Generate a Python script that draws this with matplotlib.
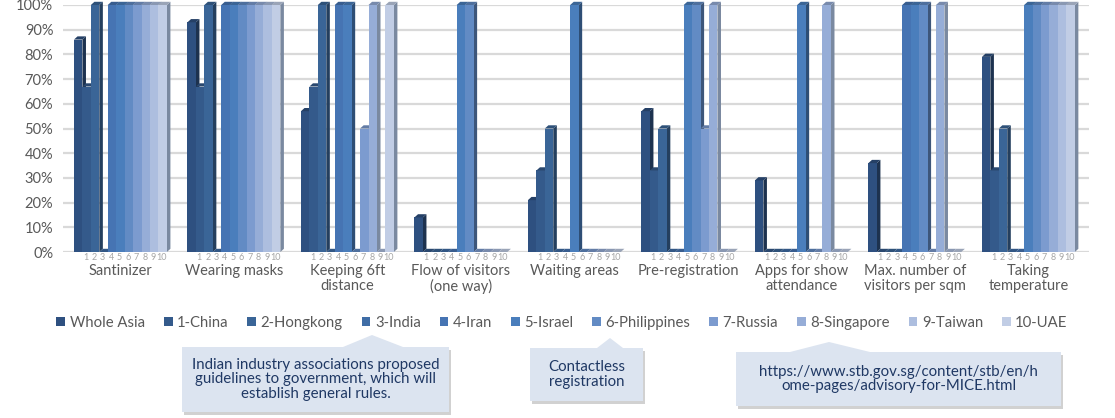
import numpy as np
import matplotlib.pyplot as plt
from matplotlib.patches import Polygon, Rectangle
from matplotlib.colors import to_rgb
import matplotlib.transforms as mtransforms

plt.rcParams['font.family'] = ['Lato', 'DejaVu Sans']

categories = ['Santinizer', 'Wearing masks', 'Keeping 6ft\ndistance',
              'Flow of visitors\n(one way)', 'Waiting areas', 'Pre-registration',
              'Apps for show\nattendance', 'Max. number of\nvisitors per sqm',
              'Taking\ntemperature']
series = ['Whole Asia', '1-China', '2-Hongkong', '3-India', '4-Iran', '5-Israel',
          '6-Philippines', '7-Russia', '8-Singapore', '9-Taiwan', '10-UAE']

whole_asia  = [86, 93, 57, 14, 21, 57, 29, 36, 79]
china       = [67, 67, 67, 0, 33, 33, 0, 0, 33]
hongkong    = [100, 100, 100, 0, 50, 50, 0, 0, 50]
india       = [0, 0, 0, 0, 0, 0, 0, 0, 0]
iran        = [100, 100, 100, 0, 0, 0, 0, 100, 0]
israel      = [100, 100, 100, 100, 100, 100, 100, 100, 100]
philippines = [100, 100, 0, 100, 0, 100, 0, 100, 100]
russia      = [100, 100, 50, 0, 0, 50, 0, 0, 100]
singapore   = [100, 100, 100, 0, 0, 100, 100, 100, 100]
taiwan      = [100, 100, 0, 0, 0, 0, 0, 0, 100]
uae         = [100, 100, 100, 0, 0, 0, 0, 0, 100]
values = [whole_asia, china, hongkong, india, iran, israel,
          philippines, russia, singapore, taiwan, uae]

colors = ['#2E5080', '#345A8B', '#3A6597', '#3F6DA6', '#4674B3', '#4A7EBC',
          '#628BC4', '#7C9BCF', '#96ADD7', '#ADBEDF', '#C1CDE5']

notes = ['Indian industry associations proposed\nguidelines to government, which will\nestablish general rules.',
         'Contactless\nregistration',
         'https://www.stb.gov.sg/content/stb/en/h\nome-pages/advisory-for-MICE.html']

W, H = 1115, 418
fig = plt.figure(figsize=(W / 100, H / 100), dpi=100)
ax = fig.add_axes([63 / W, 1 - 252 / H, (1089 - 63) / W, (252 - 5) / H])

pitch = 13.44
dx, dy = 0.42, 1.3
grey = '#595959'


def shade(c, f):
    r, g, b = to_rgb(c)
    return (r * f, g * f, b * f)


x0 = np.arange(len(categories)) * pitch
for j, (vals, col) in enumerate(zip(values, colors)):
    xs = x0 + j
    ax.bar(xs, vals, width=1.0, color=col, zorder=3 + 2 * j, linewidth=0)
    side = shade(col, 0.62) if j < 7 else shade('#8090A8', 0.95)
    for x, h in zip(xs, vals):
        r = x + 0.5
        l = x - 0.5
        ax.add_patch(Polygon([(r, 0), (r + dx, dy), (r + dx, h + dy), (r, h)],
                             closed=True, fc=side, ec='none', zorder=2 + 2 * j,
                             clip_on=False))
        ax.add_patch(Polygon([(l, h), (l + dx, h + dy), (r + dx, h + dy), (r, h)],
                             closed=True, fc=shade(col, 0.8), ec='none',
                             zorder=3 + 2 * j, clip_on=False))

ax.set_xlim(-1.8, 119.7)
ax.set_ylim(0, 100)
ax.set_yticks(range(0, 101, 10))
ax.set_yticklabels([f'{v}%' for v in range(0, 101, 10)], fontsize=10.5, color=grey)
ax.set_xticks([])
ax.tick_params(axis='y', length=0, pad=7)
ax.yaxis.grid(True, color='#D9D9D9', lw=1.6, zorder=0)
ax.set_axisbelow(True)
for s in ax.spines.values():
    s.set_visible(False)

trans = mtransforms.blended_transform_factory(ax.transData, ax.transAxes)
for g, cat in enumerate(categories):
    for j in range(1, len(series)):
        ax.text(x0[g] + j - 0.1, -6 / 247, str(j), transform=trans, ha='center',
                va='center', fontsize=6.5, color='#A6A6A6')
    ax.text(x0[g] + 5, -12 / 247, cat, transform=trans, ha='center', va='top',
            fontsize=10.5, color=grey, linespacing=1.1)

handles = [Rectangle((0, 0), 1, 1, fc=c, ec='none') for c in colors]
leg = fig.legend(handles, series, ncol=len(series), loc='center',
                 bbox_to_anchor=(562 / W, 1 - 323 / H), frameon=False,
                 handlelength=0.6, handleheight=0.6, handletextpad=0.3,
                 columnspacing=1.26, fontsize=10.7)
for t in leg.get_texts():
    t.set_color(grey)


def px(x, y):
    return (x / W, 1 - y / H)


# callout boxes: rect (left, top, right, bottom) and pointer (base left, apex x, apex y, base right)
box_rects = [(182, 347, 449, 412), (530, 348, 643, 401), (736, 352, 1061, 406)]
box_tips = [(343, 372, 335, 403), (597, 610, 338, 623), (790, 829, 342, 870)]
for (l, t, r, b), (bl, tx, ty, br), note in zip(box_rects, box_tips, notes):
    pts = [(l, t), (bl, t), (tx, ty), (br, t), (r, t), (r, b), (l, b)]
    shadow = Polygon([px(x + 2, y + 3) for x, y in pts], closed=True,
                     transform=fig.transFigure, fc='#9A9A9A', ec='none', alpha=0.45)
    fig.patches.append(shadow)
    fig.patches.append(Polygon([px(x, y) for x, y in pts], closed=True,
                               transform=fig.transFigure, fc='#DCE4F0', ec='none'))
    fig.text((l + r) / 2 / W, 1 - (t + b) / 2 / H, note, ha='center', va='center',
             fontsize=10.8, color='#1F3864', linespacing=1.07)

fig.savefig('out.png', dpi=100)
